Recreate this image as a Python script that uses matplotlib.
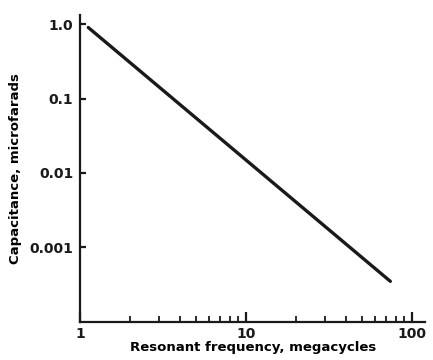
import numpy as np
import matplotlib
matplotlib.use("Agg")
import matplotlib.pyplot as plt
from matplotlib.ticker import FixedLocator, NullFormatter

# data (log-log straight line)
freq_mc = [1.12, 74.0]
cap_uf = [0.90, 0.00035]

x_ticks = [1, 10, 100]
x_labels = ["1", "10", "100"]
y_ticks = [1.0, 0.1, 0.01, 0.001]
y_labels = ["1.0", "0.1", "0.01", "0.001"]

fig = plt.figure(figsize=(4.33, 3.6), dpi=100)
ax = fig.add_axes([0.185, 0.106, 0.797, 0.852])

ax.plot(freq_mc, cap_uf, color="#1a1a1a", linewidth=2.4, solid_capstyle="round")

ax.set_xscale("log")
ax.set_yscale("log")
ax.set_xlim(1, 120)
ax.set_ylim(1e-4, 1.32)

ax.xaxis.set_major_locator(FixedLocator(x_ticks))
ax.set_xticklabels(x_labels)
minor_x = [m * d for d in (1, 10) for m in range(2, 10)]
ax.xaxis.set_minor_locator(FixedLocator(minor_x))
ax.xaxis.set_minor_formatter(NullFormatter())

ax.yaxis.set_major_locator(FixedLocator(y_ticks))
ax.set_yticklabels(y_labels)
ax.yaxis.set_minor_locator(FixedLocator([]))

for side in ("top", "right"):
    ax.spines[side].set_visible(False)
for side in ("left", "bottom"):
    ax.spines[side].set_linewidth(1.6)
    ax.spines[side].set_color("#1a1a1a")

ax.tick_params(axis="both", which="major", direction="in", length=7, width=1.6,
               colors="#1a1a1a", labelsize=10, pad=4)
ax.tick_params(axis="x", which="minor", direction="in", length=4, width=1.3,
               colors="#1a1a1a")
ax.tick_params(axis="y", which="major", length=4, pad=5)
ax.tick_params(axis="x", which="major", pad=4)
for lab in ax.get_xticklabels() + ax.get_yticklabels():
    lab.set_fontweight("bold")

ax.set_xlabel("Resonant frequency, megacycles", fontsize=9.5, fontweight="bold",
              labelpad=0)
ax.set_ylabel("Capacitance, microfarads", fontsize=9.5, fontweight="bold",
              labelpad=5)

fig.savefig("out.png", dpi=100)
